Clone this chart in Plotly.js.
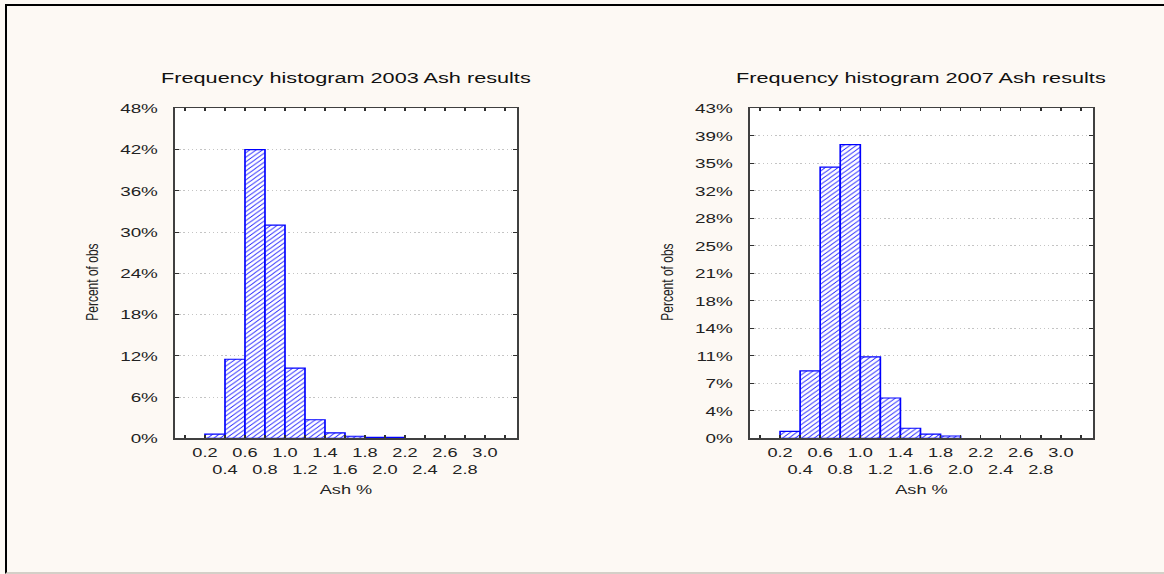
<!DOCTYPE html>
<html>
<head>
<meta charset="utf-8">
<script src="https://cdn.plot.ly/plotly-3.0.1.min.js"></script>
<style>
  html, body { margin: 0; padding: 0; background: #fdf9f4; overflow: hidden; }
  #frame {
    position: absolute; left: 5px; top: 4px; width: 1159px; height: 566px;
    border-top: 2px solid #000; border-left: 2px solid #000; border-bottom: 2px solid #d4d0c8;
    pointer-events: none; z-index: 2;
  }
  /* the chart is laid out narrower and widened horizontally, giving the wide lettering */
  #chart { position: absolute; left: 0; top: 0; width: 832px; height: 574px;
           transform: scaleX(1.3990); transform-origin: 0 0; }
</style>
</head>
<body>
<div id="chart"></div>
<div id="frame"></div>
<script>
// Histogram bins (lower edge, width 0.2 Ash %)
const binWidth = 0.2;
const bins2003 = [0.2, 0.4, 0.6, 0.8, 1.0, 1.2, 1.4, 1.6, 1.8, 2.0];
const pct2003  = [0.6, 11.5, 42.0, 31.0, 10.2, 2.7, 0.8, 0.3, 0.15, 0.15];
const bins2007 = [0.2, 0.4, 0.6, 0.8, 1.0, 1.2, 1.4, 1.6, 1.8];
const pct2007  = [0.9, 8.7, 35.0, 37.9, 10.5, 5.2, 1.3, 0.55, 0.3];

// x axis: tick marks every 0.2, labels on the inner ones
const xTickVals   = [0.0, 0.2, 0.4, 0.6, 0.8, 1.0, 1.2, 1.4, 1.6, 1.8, 2.0, 2.2, 2.4, 2.6, 2.8, 3.0, 3.2];
const xTickLabels = ['', '0.2', '0.4', '0.6', '0.8', '1.0', '1.2', '1.4', '1.6', '1.8', '2.0', '2.2', '2.4', '2.6', '2.8', '3.0', ''];

// y axes
const yTickVals2003   = [0, 6, 12, 18, 24, 30, 36, 42, 48];
const yTickLabels2003 = ['0%', '6%', '12%', '18%', '24%', '30%', '36%', '42%', '48%'];
const yTickVals2007   = [0, 3.55, 7.1, 10.65, 14.2, 17.75, 21.3, 24.85, 28.4, 31.95, 35.5, 39.05, 42.6];
const yTickLabels2007 = ['0%', '4%', '7%', '11%', '14%', '18%', '21%', '25%', '28%', '32%', '35%', '39%', '43%'];

const titles = ['Frequency histogram 2003 Ash results', 'Frequency histogram 2007 Ash results'];
const xTitle = 'Ash %';
const yTitle = 'Percent of obs';

const FONT = 'Liberation Sans, Arial, sans-serif';
const BLUE = '#0000ff';

// alternate label rows: odd positions on the first line, even ones on the second
const xText = xTickLabels.map((t, i) => (i % 2 === 0 && t) ? '<br>' + t : t);

function barTrace(x, y, xa, ya) {
  return {
    type: 'bar', x: x, y: y, xaxis: xa, yaxis: ya,
    width: binWidth, offset: 0,
    marker: {
      color: '#ffffff',
      line: { color: BLUE, width: 1.2 },
      pattern: { shape: '/', fgcolor: BLUE, bgcolor: '#ffffff', size: 3.2, solidity: 0.22 }
    },
    hoverinfo: 'skip'
  };
}

function xAxis(domain, anchor) {
  return {
    domain: domain, anchor: anchor, range: [-0.1, 3.32],
    tickmode: 'array', tickvals: xTickVals, ticktext: xText, tickangle: 0,
    ticks: 'inside', ticklen: 3, tickwidth: 1, tickcolor: '#303030',
    showline: true, linecolor: '#404040', linewidth: 1.5, mirror: 'ticks',
    showgrid: false, zeroline: false,
    tickfont: { family: FONT, size: 13, color: '#222' },
    ticklabelstandoff: 2,
    title: { text: xTitle, font: { family: FONT, size: 13, color: '#222' }, standoff: 8 }
  };
}

function yAxis(domain, anchor, vals, labels, maxv) {
  return {
    domain: domain, anchor: anchor, range: [0, maxv],
    tickmode: 'array', tickvals: vals, ticktext: labels,
    ticks: 'inside', ticklen: 3, tickwidth: 1, tickcolor: '#303030',
    showline: true, linecolor: '#404040', linewidth: 1.5, mirror: 'ticks',
    showgrid: true, gridcolor: '#c4c4c4', griddash: '1px,2px', gridwidth: 1,
    zeroline: false,
    tickfont: { family: FONT, size: 13.5, color: '#222' },
    ticklabelstandoff: 8
  };
}

const W = 1164, H = 574;
const dx1 = [175 / W, 517 / W];
const dx2 = [750 / W, 1093 / W];
const dy  = [0.2364, 0.8113];

const data = [
  barTrace(bins2003, pct2003, 'x', 'y'),
  barTrace(bins2007, pct2007, 'x2', 'y2')
];

const annotations = [];
titles.forEach((t, i) => {
  const d = i === 0 ? dx1 : dx2;
  annotations.push({
    text: t, xref: 'paper', yref: 'paper',
    x: (d[0] + d[1]) / 2, y: (H - 77) / H,
    xanchor: 'center', yanchor: 'middle', showarrow: false,
    font: { family: FONT, size: 15.5, color: '#111' }
  });
  annotations.push({
    text: yTitle, xref: 'paper', yref: 'paper', textangle: -90,
    x: (i === 0 ? 92 : 667) / W, y: (H - 282) / H,
    xanchor: 'center', yanchor: 'middle', showarrow: false,
    font: { family: FONT, size: 12, color: '#222' }
  });
});

const layout = {
  width: 832, height: H,
  margin: { l: 0, r: 0, t: 0, b: 0 },
  paper_bgcolor: '#fdf9f4', plot_bgcolor: '#ffffff',
  showlegend: false, bargap: 0,
  xaxis: xAxis(dx1, 'y'),
  yaxis: yAxis(dy, 'x', yTickVals2003, yTickLabels2003, 48),
  xaxis2: xAxis(dx2, 'y2'),
  yaxis2: yAxis(dy, 'x2', yTickVals2007, yTickLabels2007, 42.6),
  annotations: annotations
};

Plotly.newPlot('chart', data, layout, { displayModeBar: false, staticPlot: true });
</script>
</body>
</html>
